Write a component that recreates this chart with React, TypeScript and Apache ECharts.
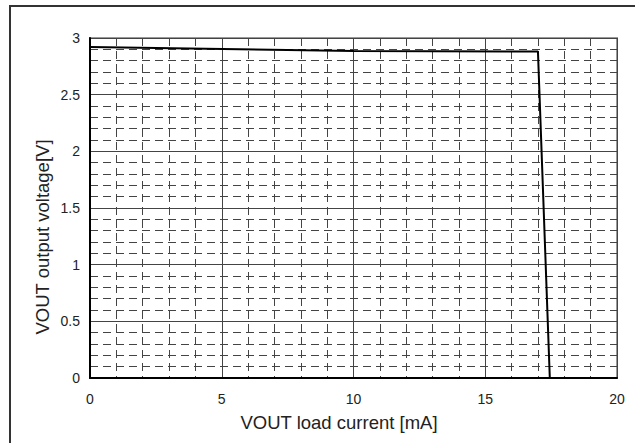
import React, { useEffect, useRef } from "react";
import * as echarts from "echarts";

const xValues = [0, 10, 17, 17.45, 20];
const yValues = [2.92, 2.885, 2.88, 0, 0];
const xTicks = [0, 5, 10, 15, 20];
const yTicks = [0, 0.5, 1, 1.5, 2, 2.5, 3];
const xName = "VOUT load current [mA]";
const yName = "VOUT output voltage[V]";

const FONT = "'Liberation Sans', Arial, sans-serif";

export default function App() {
  const ref = useRef<HTMLDivElement>(null);
  useEffect(() => {
    const chart = echarts.init(ref.current!, null, { renderer: "svg" });
    const gridLine = { color: "#444", width: 1 };
    const minorLine = { color: "#444", width: 1, type: [8, 5] as any };
    chart.setOption({
      animation: false,
      backgroundColor: "#fff",
      graphic: [
        {
          type: "polyline",
          shape: { points: [[10, 443], [10, 6], [635, 6]] },
          style: { stroke: "#333", lineWidth: 2, fill: "none" },
          z: 10,
        },
        {
          type: "text",
          x: 339,
          y: 422,
          style: {
            text: xName,
            fontFamily: FONT,
            fontSize: 18.5,
            fill: "#222",
            align: "center",
            verticalAlign: "middle",
          },
        },
        {
          type: "text",
          x: 42,
          y: 237,
          rotation: Math.PI / 2,
          style: {
            text: yName,
            fontFamily: FONT,
            fontSize: 18.5,
            fill: "#222",
            align: "center",
            verticalAlign: "middle",
          },
        },
      ],
      grid: {
        left: 90,
        top: 38,
        right: 18,
        bottom: 65,
        show: true,
        borderColor: "#999",
        borderWidth: 2,
        backgroundColor: "transparent",
      },
      xAxis: {
        type: "value",
        min: xTicks[0],
        max: xTicks[xTicks.length - 1],
        interval: 5,
        axisLine: { show: true, onZero: false, lineStyle: { color: "#000", width: 2 } },
        axisTick: { show: false },
        axisLabel: { fontFamily: FONT, fontSize: 14, color: "#222", margin: 14 },
        splitLine: { show: true, lineStyle: gridLine },
        minorTick: { show: false, splitNumber: 5 },
        minorSplitLine: { show: true, lineStyle: minorLine },
      },
      yAxis: {
        type: "value",
        min: yTicks[0],
        max: yTicks[yTicks.length - 1],
        interval: 0.5,
        axisLine: { show: true, onZero: false, lineStyle: { color: "#000", width: 2 } },
        axisTick: { show: false },
        axisLabel: { fontFamily: FONT, fontSize: 14, color: "#222", margin: 10 },
        splitLine: { show: true, lineStyle: gridLine },
        minorTick: { show: false, splitNumber: 5 },
        minorSplitLine: { show: true, lineStyle: minorLine },
      },
      series: [
        {
          type: "line",
          data: xValues.map((x, i) => [x, yValues[i]]),
          showSymbol: false,
          symbol: "none",
          lineStyle: { color: "#000", width: 2 },
          z: 5,
        },
      ],
    });
    return () => chart.dispose();
  }, []);
  return <div ref={ref} style={{ width: 635, height: 443, position: "absolute", left: 0, top: 0 }} />;
}
